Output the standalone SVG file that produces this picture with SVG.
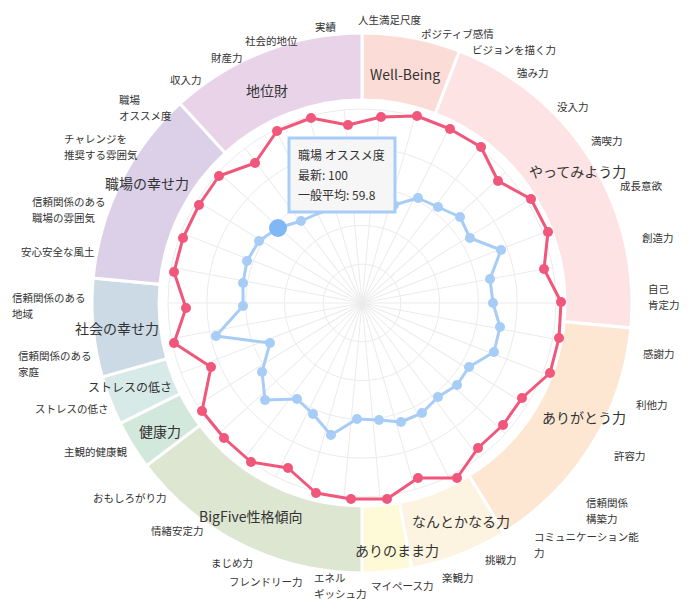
<svg xmlns="http://www.w3.org/2000/svg" xmlns:xlink="http://www.w3.org/1999/xlink" width="698" height="609" viewBox="0 0 698 609">
<style>
text{font-family:"Noto Sans CJK JP","Noto Sans",sans-serif;fill:#333}
.lb{font-size:10.5px}
.cat{font-size:14px}
.seg{stroke:#fff;stroke-width:3}
.grid{fill:none;stroke:#ebebeb;stroke-width:1}
.red{fill:none;stroke:#f0577a;stroke-width:3;stroke-linejoin:round}
.blue{fill:none;stroke:#a7cdf7;stroke-width:3;stroke-linejoin:round}
.rd{fill:#f0577a}
.bd{fill:#a7cdf7}
</style>
<defs>
<line id="ray" x1="362" y1="303" x2="362" y2="109" stroke="#ebebeb" stroke-width="1"/>
</defs>
<rect width="698" height="609" fill="#fff"/>
<g id="ring">
<path class="seg" fill="#fcdcd6" d="M362,33 A270,270 0 0 1 459.5,51.2 L435.3,113.7 A203,203 0 0 0 362,100 Z"/>
<path class="seg" fill="#fde3e3" d="M459.5,51.2 A270,270 0 0 1 630.8,327.9 L564.1,321.7 A203,203 0 0 0 435.3,113.7 Z"/>
<path class="seg" fill="#fde7d3" d="M630.8,327.9 A270,270 0 0 1 504.1,532.6 L468.9,475.6 A203,203 0 0 0 564.1,321.7 Z"/>
<path class="seg" fill="#fdf3e1" d="M504.1,532.6 A270,270 0 0 1 411.6,568.4 L399.3,502.5 A203,203 0 0 0 468.9,475.6 Z"/>
<path class="seg" fill="#fefad7" d="M411.6,568.4 A270,270 0 0 1 362,573 L362,506 A203,203 0 0 0 399.3,502.5 Z"/>
<path class="seg" fill="#dde6d1" d="M362,573 A270,270 0 0 1 146.5,465.7 L200,425.3 A203,203 0 0 0 362,506 Z"/>
<path class="seg" fill="#d3e8dc" d="M146.5,465.7 A270,270 0 0 1 120.3,423.3 L180.3,393.5 A203,203 0 0 0 200,425.3 Z"/>
<path class="seg" fill="#d8eae8" d="M120.3,423.3 A270,270 0 0 1 102.3,376.9 L166.8,358.6 A203,203 0 0 0 180.3,393.5 Z"/>
<path class="seg" fill="#ccdae6" d="M102.3,376.9 A270,270 0 0 1 93.2,278.1 L159.9,284.3 A203,203 0 0 0 166.8,358.6 Z"/>
<path class="seg" fill="#dbd0e7" d="M93.2,278.1 A270,270 0 0 1 180.1,103.5 L225.2,153 A203,203 0 0 0 159.9,284.3 Z"/>
<path class="seg" fill="#e8d3e9" d="M180.1,103.5 A270,270 0 0 1 362,33 L362,100 A203,203 0 0 0 225.2,153 Z"/>
<text class="cat" x="370" y="80">Well-Being</text>
<text class="cat" x="529" y="177">やってみよう力</text>
<text class="cat" x="542" y="423">ありがとう力</text>
<text class="cat" x="412" y="527">なんとかなる力</text>
<text class="cat" x="355" y="556">ありのまま力</text>
<text class="cat" x="199" y="522">BigFive性格傾向</text>
<text class="cat" x="139" y="437">健康力</text>
<text class="cat" x="88" y="392" style="font-size:12px">ストレスの低さ</text>
<text class="cat" x="75" y="334">社会の幸せ力</text>
<text class="cat" x="105" y="189">職場の幸せ力</text>
<text class="cat" x="246" y="96">地位財</text>
</g>
<g id="grid">
<circle class="grid" cx="362" cy="303" r="38.8"/>
<circle class="grid" cx="362" cy="303" r="77.6"/>
<circle class="grid" cx="362" cy="303" r="116.4"/>
<circle class="grid" cx="362" cy="303" r="155.2"/>
<circle class="grid" cx="362" cy="303" r="194"/>
<use xlink:href="#ray" transform="rotate(5.294 362 303)"/>
<use xlink:href="#ray" transform="rotate(15.882 362 303)"/>
<use xlink:href="#ray" transform="rotate(26.47 362 303)"/>
<use xlink:href="#ray" transform="rotate(37.06 362 303)"/>
<use xlink:href="#ray" transform="rotate(47.65 362 303)"/>
<use xlink:href="#ray" transform="rotate(58.24 362 303)"/>
<use xlink:href="#ray" transform="rotate(68.82 362 303)"/>
<use xlink:href="#ray" transform="rotate(79.41 362 303)"/>
<use xlink:href="#ray" transform="rotate(90 362 303)"/>
<use xlink:href="#ray" transform="rotate(100.59 362 303)"/>
<use xlink:href="#ray" transform="rotate(111.18 362 303)"/>
<use xlink:href="#ray" transform="rotate(121.76 362 303)"/>
<use xlink:href="#ray" transform="rotate(132.35 362 303)"/>
<use xlink:href="#ray" transform="rotate(142.94 362 303)"/>
<use xlink:href="#ray" transform="rotate(153.53 362 303)"/>
<use xlink:href="#ray" transform="rotate(164.12 362 303)"/>
<use xlink:href="#ray" transform="rotate(174.71 362 303)"/>
<use xlink:href="#ray" transform="rotate(185.29 362 303)"/>
<use xlink:href="#ray" transform="rotate(195.88 362 303)"/>
<use xlink:href="#ray" transform="rotate(206.47 362 303)"/>
<use xlink:href="#ray" transform="rotate(217.06 362 303)"/>
<use xlink:href="#ray" transform="rotate(227.65 362 303)"/>
<use xlink:href="#ray" transform="rotate(238.24 362 303)"/>
<use xlink:href="#ray" transform="rotate(248.82 362 303)"/>
<use xlink:href="#ray" transform="rotate(259.41 362 303)"/>
<use xlink:href="#ray" transform="rotate(270 362 303)"/>
<use xlink:href="#ray" transform="rotate(280.59 362 303)"/>
<use xlink:href="#ray" transform="rotate(291.18 362 303)"/>
<use xlink:href="#ray" transform="rotate(301.76 362 303)"/>
<use xlink:href="#ray" transform="rotate(312.35 362 303)"/>
<use xlink:href="#ray" transform="rotate(322.94 362 303)"/>
<use xlink:href="#ray" transform="rotate(333.53 362 303)"/>
<use xlink:href="#ray" transform="rotate(344.12 362 303)"/>
<use xlink:href="#ray" transform="rotate(354.71 362 303)"/>
</g>
<g id="labels" class="lb">
<text x="358" y="24">人生満足尺度</text>
<text x="421" y="38">ポジティブ感情</text>
<text x="472" y="54">ビジョンを描く力</text>
<text x="517" y="77">強み力</text>
<text x="557" y="111">没入力</text>
<text x="591" y="145">満喫力</text>
<text x="620" y="190">成長意欲</text>
<text x="642" y="242">創造力</text>
<text x="648" y="293">自己</text>
<text x="648" y="309">肯定力</text>
<text x="643" y="358">感謝力</text>
<text x="636" y="409">利他力</text>
<text x="614" y="460">許容力</text>
<text x="586" y="507">信頼関係</text>
<text x="586" y="523">構築力</text>
<text x="534" y="541">コミュニケーション能</text>
<text x="534" y="557">力</text>
<text x="485" y="564">挑戦力</text>
<text x="442" y="582">楽観力</text>
<text x="371" y="590">マイペース力</text>
<text x="314" y="582">エネル</text>
<text x="314" y="598">ギッシュ力</text>
<text x="229" y="586">フレンドリー力</text>
<text x="211" y="567">まじめ力</text>
<text x="151" y="535">情緒安定力</text>
<text x="93" y="502">おもしろがり力</text>
<text x="64" y="456">主観的健康観</text>
<text x="35" y="413">ストレスの低さ</text>
<text x="18" y="360">信頼関係のある</text>
<text x="18" y="376">家庭</text>
<text x="12" y="302">信頼関係のある</text>
<text x="12" y="318">地域</text>
<text x="21" y="256">安心安全な風土</text>
<text x="32" y="206">信頼関係のある</text>
<text x="32" y="222">職場の雰囲気</text>
<text x="64" y="143">チャレンジを</text>
<text x="64" y="159">推奨する雰囲気</text>
<text x="119" y="104">職場</text>
<text x="119" y="120">オススメ度</text>
<text x="170" y="84">収入力</text>
<text x="211" y="62">財産力</text>
<text x="245" y="45">社会的地位</text>
<text x="315" y="31">実績</text>
</g>
<g id="series-latest">
<polygon class="red" points="381,117 417,116 450,129 481,147 498,181 531,199 548,232 544,269 561,302 559,338 550,373 522,398 503,425 478,448 457,478 418,478 387,499 351,499 316,493 288,468 251,462 224,438 202,411 211,367 174,343 186,308 174,272 183,238 199,205 219,176 255,163 277,131 311,118 348,125"/>
<g class="rd">
<circle cx="381" cy="117" r="5"/><circle cx="417" cy="116" r="5"/><circle cx="450" cy="129" r="5"/><circle cx="481" cy="147" r="5"/><circle cx="498" cy="181" r="5"/><circle cx="531" cy="199" r="5"/><circle cx="548" cy="232" r="5"/><circle cx="544" cy="269" r="5"/><circle cx="561" cy="302" r="5"/><circle cx="559" cy="338" r="5"/><circle cx="550" cy="373" r="5"/><circle cx="522" cy="398" r="5"/><circle cx="503" cy="425" r="5"/><circle cx="478" cy="448" r="5"/><circle cx="457" cy="478" r="5"/><circle cx="418" cy="478" r="5"/><circle cx="387" cy="499" r="5"/><circle cx="351" cy="499" r="5"/><circle cx="316" cy="493" r="5"/><circle cx="288" cy="468" r="5"/><circle cx="251" cy="462" r="5"/><circle cx="224" cy="438" r="5"/><circle cx="202" cy="411" r="5"/><circle cx="211" cy="367" r="5"/><circle cx="174" cy="343" r="5"/><circle cx="186" cy="308" r="5"/><circle cx="174" cy="272" r="5"/><circle cx="183" cy="238" r="5"/><circle cx="199" cy="205" r="5"/><circle cx="219" cy="176" r="5"/><circle cx="255" cy="163" r="5"/><circle cx="277" cy="131" r="5"/><circle cx="311" cy="118" r="5"/><circle cx="348" cy="125" r="5"/>
</g>
</g>
<g id="series-average">
<polygon class="blue" points="371,203 394,205 418,198 438,207 460,217 470,238 501,250 490,279 493,303 500,327 494,352 469,367 457,385 438,397 422,413 401,422 379,420 357,419 331,435 313,414 297,399 265,400 262,372 270,343 216,336 243,306 243,283 247,261 259,241 278,228 301,221 317,214 335,207 353,203"/>
<g class="bd">
<circle cx="394" cy="205" r="5"/><circle cx="418" cy="198" r="5"/><circle cx="438" cy="207" r="5"/><circle cx="460" cy="217" r="5"/><circle cx="470" cy="238" r="5"/><circle cx="501" cy="250" r="5"/><circle cx="490" cy="279" r="5"/><circle cx="493" cy="303" r="5"/><circle cx="500" cy="327" r="5"/><circle cx="494" cy="352" r="5"/><circle cx="469" cy="367" r="5"/><circle cx="457" cy="385" r="5"/><circle cx="438" cy="397" r="5"/><circle cx="422" cy="413" r="5"/><circle cx="401" cy="422" r="5"/><circle cx="379" cy="420" r="5"/><circle cx="357" cy="419" r="5"/><circle cx="331" cy="435" r="5"/><circle cx="313" cy="414" r="5"/><circle cx="297" cy="399" r="5"/><circle cx="265" cy="400" r="5"/><circle cx="262" cy="372" r="5"/><circle cx="270" cy="343" r="5"/><circle cx="216" cy="336" r="5"/><circle cx="243" cy="306" r="5"/><circle cx="243" cy="283" r="5"/><circle cx="247" cy="261" r="5"/><circle cx="259" cy="241" r="5"/><circle cx="301" cy="221" r="5"/>
</g>
<circle cx="278" cy="228" r="9" fill="#80b8f5"/>
</g>
<g id="tooltip">
<rect x="289" y="138" width="106" height="74" fill="#f6f6f6" stroke="#a7cdf7" stroke-width="3"/>
<text x="298" y="160" font-size="12">職場 オススメ度</text>
<text x="298" y="180" font-size="12">最新: 100</text>
<text x="298" y="200" font-size="12">一般平均: 59.8</text>
</g>
</svg>
